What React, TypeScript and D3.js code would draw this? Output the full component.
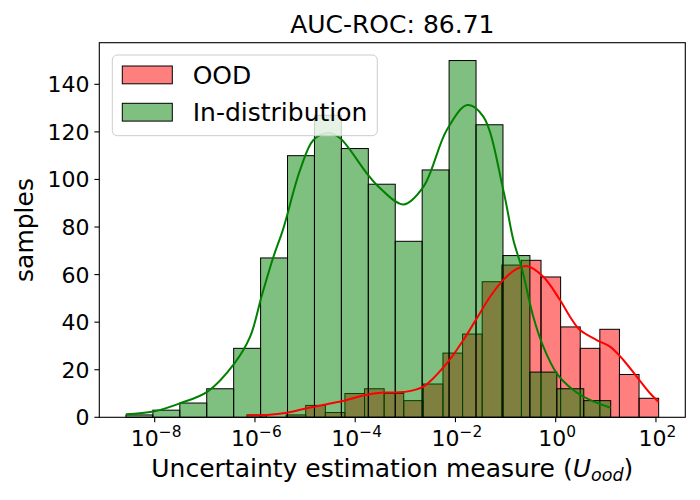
import { useRef, useEffect } from "react";
import * as d3 from "d3";

const title = "AUC-ROC: 86.71";
const seriesNames = ["OOD", "In-distribution"];
const seriesColors = ["red", "green"];

// histogram bins are equal-width in log10 space: [first edge, last edge]
const oodBinRange = [-6.161, 2.054];
const oodCounts = [1, 0, 1, 5, 2, 10, 12, 10, 7, 14, 27, 35, 57, 64, 66, 59, 38, 29, 37, 18, 8];
const idBinRange = [-8.574, 1.097];
const idCounts = [1, 3, 6, 12, 29, 67, 110, 127, 113, 98, 74, 104, 150, 123, 68, 19, 12, 7];

// kde curves as [log10 x, samples]
const oodKde: [number, number][] = [
  [-6.161, 0.8], [-5.763, 1.0], [-5.364, 1.9], [-4.965, 3.8], [-4.566, 5.5],
  [-4.167, 7.3], [-3.797, 9.4], [-3.438, 10.4], [-3.039, 10.6], [-2.64, 12.9],
  [-2.173, 22.7], [-1.842, 32.5], [-1.575, 41.6], [-1.309, 50.7], [-1.045, 57.8],
  [-0.778, 62.4], [-0.579, 63.6], [-0.247, 59.1], [0.086, 49.3], [0.285, 42.3],
  [0.485, 36.7], [0.818, 32.5], [1.083, 29.7], [1.349, 24.1], [1.615, 17.1],
  [1.881, 10.1], [2.054, 6.4],
];
const idKde: [number, number][] = [
  [-8.574, 1.3], [-8.024, 2.4], [-7.492, 5.9], [-6.947, 10.8], [-6.409, 22.7],
  [-6.096, 33.9], [-5.87, 50.7], [-5.631, 67.5], [-5.444, 78.7], [-5.099, 104.0],
  [-4.833, 116.6], [-4.534, 119.5], [-4.301, 117.3], [-3.769, 102.6], [-3.503, 96.3],
  [-3.039, 89.5], [-2.64, 96.9], [-2.173, 120.8], [-1.763, 131.3], [-1.444, 126.4],
  [-1.045, 95.5], [-0.845, 74.5], [-0.678, 62.8], [-0.447, 42.3], [-0.247, 29.7],
  [0.02, 18.5], [0.351, 11.5], [0.684, 7.3], [1.097, 4.0],
];

const xTickExps = [-8, -6, -4, -2, 0, 2];
const yTicks = [0, 20, 40, 60, 80, 100, 120, 140];

const xLabel = "Uncertainty estimation measure (";
const yLabel = "samples";

const font = "DejaVu Sans";

function bins(range: number[], counts: number[]) {
  const w = (range[1] - range[0]) / counts.length;
  return counts.map((c, i) => ({
    x0: Math.pow(10, range[0] + i * w),
    x1: Math.pow(10, range[0] + (i + 1) * w),
    count: c,
  }));
}

export default function App() {
  const svgRef = useRef<SVGSVGElement>(null);

  useEffect(() => {
    if (!svgRef.current) return;
    const width = 700;
    const height = 500;
    const svg = d3.select(svgRef.current);
    svg.selectAll("*").remove();
    svg.attr("viewBox", `0 0 ${width} ${height}`);

    const margin = { top: 42.7, right: 14.7, bottom: 82.7, left: 99.3 };
    const x0 = margin.left;
    const x1 = width - margin.right;
    const y0 = height - margin.bottom;
    const y1 = margin.top;

    // 5% log-space margins like matplotlib
    const lo = Math.min(idBinRange[0], oodBinRange[0]);
    const hi = Math.max(idBinRange[1], oodBinRange[1]);
    const pad = (hi - lo) * 0.05;
    const x = d3
      .scaleLog()
      .domain([Math.pow(10, lo - pad), Math.pow(10, hi + pad)])
      .range([x0, x1]);

    const yMax = (d3.max([...idCounts, ...oodCounts]) ?? 0) * 1.05;
    const y = d3.scaleLinear().domain([0, yMax]).range([y0, y1]);

    // Bars: OOD first, in-distribution on top
    const layers = [bins(oodBinRange, oodCounts), bins(idBinRange, idCounts)];
    layers.forEach((data, k) => {
      svg
        .append("g")
        .selectAll("rect")
        .data(data.filter((d) => d.count > 0))
        .join("rect")
        .attr("x", (d) => x(d.x0))
        .attr("y", (d) => y(d.count))
        .attr("width", (d) => x(d.x1) - x(d.x0))
        .attr("height", (d) => y0 - y(d.count))
        .attr("fill", seriesColors[k])
        .attr("fill-opacity", 0.5)
        .attr("stroke", "black")
        .attr("stroke-width", 1);
    });

    // KDE lines
    const line = d3
      .line<[number, number]>()
      .x((d) => x(Math.pow(10, d[0])))
      .y((d) => y(d[1]))
      .curve(d3.curveCatmullRom);
    [oodKde, idKde].forEach((kde, k) => {
      svg
        .append("path")
        .attr("d", line(kde))
        .attr("fill", "none")
        .attr("stroke", seriesColors[k])
        .attr("stroke-width", 2);
    });

    // Frame
    svg
      .append("rect")
      .attr("x", x0)
      .attr("y", y1)
      .attr("width", x1 - x0)
      .attr("height", y0 - y1)
      .attr("fill", "none")
      .attr("stroke", "black")
      .attr("stroke-width", 1.1);

    // X ticks
    const xt = svg.append("g").attr("font-family", font);
    xTickExps.forEach((e) => {
      const px = x(Math.pow(10, e));
      xt.append("line")
        .attr("x1", px)
        .attr("x2", px)
        .attr("y1", y0)
        .attr("y2", y0 + 4.9)
        .attr("stroke", "black")
        .attr("stroke-width", 1.1);
      const t = xt
        .append("text")
        .attr("x", px + 1.5)
        .attr("y", 446)
        .attr("text-anchor", "middle")
        .attr("font-size", 22);
      t.append("tspan").text("10");
      t.append("tspan")
        .attr("dy", -9.3)
        .attr("font-size", 15.4)
        .text(e < 0 ? `\u2212${-e}` : `${e}`);
    });

    // Y ticks
    const yt = svg.append("g").attr("font-family", font);
    yTicks.forEach((v) => {
      const py = y(v);
      yt.append("line")
        .attr("x1", x0 - 4.9)
        .attr("x2", x0)
        .attr("y1", py)
        .attr("y2", py)
        .attr("stroke", "black")
        .attr("stroke-width", 1.1);
      yt.append("text")
        .attr("x", x0 - 9.8)
        .attr("y", py)
        .attr("dy", "0.36em")
        .attr("text-anchor", "end")
        .attr("font-size", 22)
        .text(v);
    });

    // Title and axis labels
    svg
      .append("text")
      .attr("x", (x0 + x1) / 2)
      .attr("y", 33.3)
      .attr("text-anchor", "middle")
      .attr("font-family", font)
      .attr("font-size", 25)
      .text(title);

    const xl = svg
      .append("text")
      .attr("x", (x0 + x1) / 2)
      .attr("y", 476.7)
      .attr("text-anchor", "middle")
      .attr("font-family", font)
      .attr("font-size", 25);
    xl.append("tspan").text(xLabel);
    xl.append("tspan").attr("font-style", "italic").text("U");
    xl.append("tspan")
      .attr("dy", 4)
      .attr("font-size", 17.5)
      .attr("font-style", "italic")
      .text("ood");
    xl.append("tspan").attr("dy", -4).text(")");

    svg
      .append("text")
      .attr("transform", `translate(33,${(y0 + y1) / 2}) rotate(-90)`)
      .attr("text-anchor", "middle")
      .attr("font-family", font)
      .attr("font-size", 25)
      .text(yLabel);

    // Legend
    const lg = svg.append("g").attr("font-family", font);
    lg.append("rect")
      .attr("x", 112.3)
      .attr("y", 55)
      .attr("width", 265)
      .attr("height", 80.7)
      .attr("rx", 5)
      .attr("fill", "white")
      .attr("fill-opacity", 0.8)
      .attr("stroke", "#cccccc")
      .attr("stroke-width", 1);
    seriesNames.forEach((name, k) => {
      const top = 66 + k * 37.3;
      lg.append("rect")
        .attr("x", 122.3)
        .attr("y", top)
        .attr("width", 50)
        .attr("height", 17.8)
        .attr("fill", seriesColors[k])
        .attr("fill-opacity", 0.5)
        .attr("stroke", "black")
        .attr("stroke-width", 1);
      lg.append("text")
        .attr("x", 192.7)
        .attr("y", top + 17.5)
        .attr("font-size", 25)
        .text(name);
    });
  }, []);

  return (
    <svg
      ref={svgRef}
      width={700}
      height={500}
      style={{ position: "absolute", left: 0, top: 0, background: "white" }}
    />
  );
}
